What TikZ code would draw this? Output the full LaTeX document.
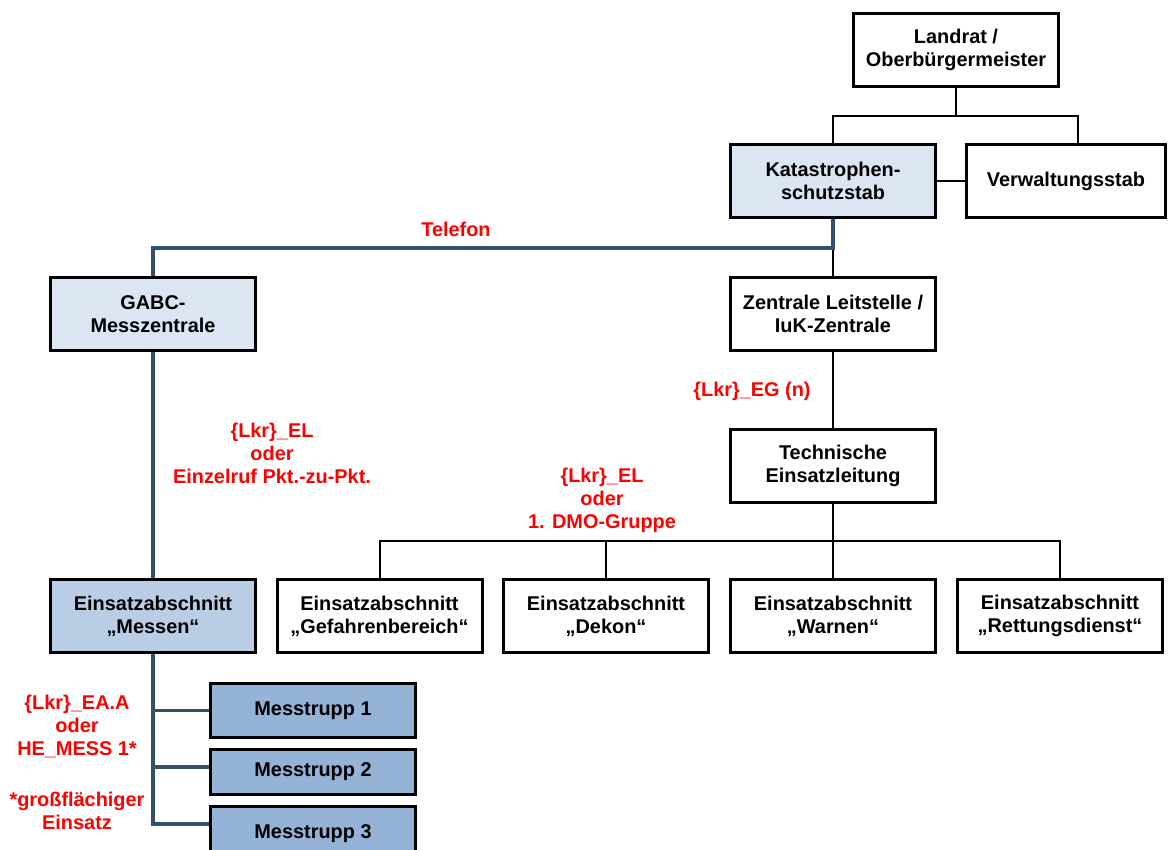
\documentclass[tikz,border=0pt]{standalone}
\usepackage{fontspec}
\setmainfont{Liberation Sans}
\usetikzlibrary{calc}
\definecolor{staffblue}{HTML}{DCE6F2}
\definecolor{sectionblue}{HTML}{B9CDE5}
\definecolor{squadblue}{HTML}{95B3D7}
\definecolor{phoneblue}{HTML}{34506F}
\definecolor{radiored}{HTML}{FF0000}
\tikzset{
	every node/.style={font=\fontsize{9.95}{11.5}\selectfont\bfseries},
	align=center,
	unit/.style={
		draw,
		rectangle,
		line width=1.5pt,
		inner sep=0pt,
		minimum width=102.5pt,
		minimum height=36.5pt,
	},
	staff/.style={fill=staffblue},
	section/.style={fill=sectionblue},
	squad/.style={
		fill=squadblue,
		minimum height=27pt,
	},
	radio/.style={
		text=radiored,
	},
	link/.style={
		draw,
		line width=1pt,
	},
	phone/.style={
		draw=phoneblue,
		line width=1.8pt,
	},
}

\begin{document}
\begin{tikzpicture}[x=0.5pt,y=-0.5pt]
		\clip (0,0) rectangle (1168,850);
		\fill[white] (0,0) rectangle (1168,850);

		% Leitung
		\node[unit] (landrat) at (956,50) {Landrat /\\Oberbürgermeister};
		\node[unit,staff] (kats) at (833,181) {Katastrophen-\\schutzstab};
		\node[unit,minimum width=99.5pt] (verw) at (1066,181) {Verwaltungsstab};

		\node[unit,staff] (gabc) at (153,314) {GABC-\\Messzentrale};
		\node[unit] (ils) at (833,314) {Zentrale Leitstelle /\\IuK-Zentrale};
		\node[unit] (tel) at (833,465.5) {Technische\\Einsatzleitung};

		% Einsatzabschnitte
		\node[unit,section] (messen) at (153,616) {Einsatzabschnitt\\„Messen“};
		\node[unit] (gefahr) at (379.5,616) {Einsatzabschnitt\\„Gefahrenbereich“};
		\node[unit] (dekon) at (606,616) {Einsatzabschnitt\\„Dekon“};
		\node[unit] (warnen) at (833,616) {Einsatzabschnitt\\„Warnen“};
		\node[unit] (rett) at (1060,616) {Einsatzabschnitt\\„Rettungsdienst“};

		% Messtrupps
		\node[unit,squad] (mt1) at (313,710.5) {Messtrupp 1};
		\node[unit,squad,minimum height=22.5pt] (mt2) at (313,772) {Messtrupp 2};
		\node[unit,squad] (mt3) at (313,833.5) {Messtrupp 3};

		% Funk
		\node[radio] (telefon) at (456,229) {Telefon};
		\node[radio] (eg) at (752,391) {\{Lkr\}\_EG (n)};
		\node[radio] (elgabc) at (272,453) {\{Lkr\}\_EL\\oder\\Einzelruf Pkt.-zu-Pkt.};
		\node[radio] (elrow) at (602,500) {\{Lkr\}\_EL\\oder\\1. DMO-Gruppe};
		\node[radio] (eaa) at (77,727) {\{Lkr\}\_EA.A\\oder\\HE\_MESS 1*};
		\node[radio] (gross) at (77,811) {*großflächiger\\Einsatz};

		\draw[link] (landrat.south) -- ++(0,28) coordinate (topfork);
		\draw[link] (kats.north) |- (topfork) -| ([xshift=6pt]verw.north);
		\draw[link] (kats.east) -- (verw.west);
		\draw[link] (kats.south) -- (ils.north);
		\draw[phone] (kats.south) -- ++(0,29) -| (gabc.north);
		\draw[link] (ils.south) -- (tel.north);
		\draw[link] (tel.south) -- (warnen.north);
		\draw[link] (gefahr.north) -- ++(0,-37) -| (rett.north);
		\draw[link] (dekon.north) -- ++(0,-37);
		\draw[phone] (gabc.south) -- (messen.north);
		\draw[phone] (messen.south) |- ([yshift=4.75pt]mt3.west);
		\draw[phone] (messen.south |- mt1.west) -- (mt1.west);
		\draw[phone] ([yshift=2.5pt]messen.south |- mt2.west) -- ([yshift=2.5pt]mt2.west);

	\end{tikzpicture}
\end{document}
